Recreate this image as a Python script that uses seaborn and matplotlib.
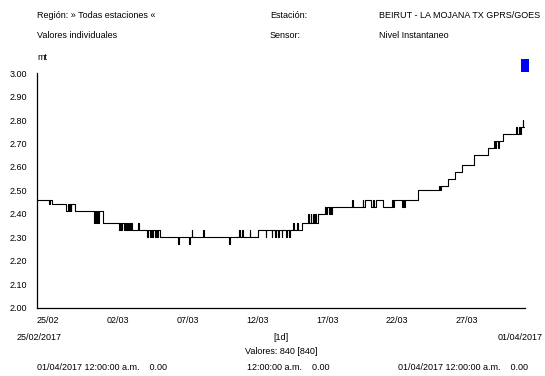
import matplotlib
matplotlib.use("Agg")
import matplotlib.pyplot as plt
from matplotlib import font_manager
from matplotlib.patches import Rectangle
from matplotlib.transforms import ScaledTranslation
import seaborn as sns
import pandas as pd

# ---- data: hourly step series (hours since 25/02/2017 00:00) ----
hours = [0, 21, 22, 25, 50, 53, 55, 57, 58, 59, 65,
         98, 100, 102, 103, 105, 107, 114,
         141, 143, 145, 147, 149, 152, 153, 155, 157, 158, 160, 162, 164, 174, 176,
         189, 191, 194, 196, 198, 200, 203, 204, 207, 208, 212,
         243, 244, 262, 263, 266, 267, 286, 287, 331, 332, 348, 349, 353, 354, 366, 367,
         380, 394, 395, 404, 405, 410, 411, 415, 416, 421, 422, 429, 430, 433,
         436, 441, 442, 448, 449, 456,
         466, 468, 471, 472, 475, 477, 479, 481, 484,
         496, 497, 500, 502, 504, 506, 508,
         543, 544, 561, 562, 565, 575, 578, 580, 583, 596, 611, 613, 614, 628, 630, 632, 634,
         656, 692, 694, 696, 708, 719, 731, 753, 776,
         787, 789, 790, 793, 795, 802,
         825, 826, 829, 831, 833, 836, 837, 839]
levels = [2.46, 2.44, 2.46, 2.44, 2.41, 2.44, 2.41, 2.44, 2.41, 2.44, 2.41,
          2.36, 2.41, 2.36, 2.41, 2.36, 2.41, 2.36,
          2.33, 2.36, 2.33, 2.36, 2.33, 2.36, 2.33, 2.36, 2.33, 2.36, 2.33, 2.36, 2.33, 2.36, 2.33,
          2.30, 2.33, 2.30, 2.33, 2.30, 2.33, 2.30, 2.33, 2.30, 2.33, 2.30,
          2.27, 2.30, 2.27, 2.30, 2.33, 2.30, 2.33, 2.30, 2.27, 2.30, 2.33, 2.30, 2.33, 2.30, 2.33, 2.30,
          2.33, 2.30, 2.33, 2.30, 2.33, 2.30, 2.33, 2.30, 2.33, 2.30, 2.33, 2.30, 2.33, 2.30,
          2.33, 2.36, 2.33, 2.36, 2.33, 2.36,
          2.40, 2.36, 2.40, 2.36, 2.40, 2.36, 2.40, 2.36, 2.40,
          2.43, 2.40, 2.43, 2.40, 2.43, 2.40, 2.43,
          2.46, 2.43, 2.46, 2.43, 2.46, 2.43, 2.46, 2.43, 2.46, 2.43, 2.46, 2.43, 2.46, 2.43, 2.46, 2.43, 2.46,
          2.50, 2.52, 2.50, 2.52, 2.55, 2.58, 2.61, 2.65, 2.68,
          2.71, 2.68, 2.71, 2.68, 2.71, 2.74,
          2.77, 2.74, 2.77, 2.74, 2.77, 2.80, 2.77, 2.77]

x_tick_hours = [24 * d for d in range(36)]
x_tick_labels = ["25/02", "", "", "", "", "02/03", "", "", "", "", "07/03", "", "", "", "",
                 "12/03", "", "", "", "", "17/03", "", "", "", "", "22/03", "", "", "", "",
                 "27/03", "", "", "", "", ""]
y_ticks = [2.00, 2.10, 2.20, 2.30, 2.40, 2.50, 2.60, 2.70, 2.80, 2.90, 3.00]

df = pd.DataFrame({"hour": hours, "nivel": levels})

sns.set_style("white")
avail = {f.name for f in font_manager.fontManager.ttflist}
fam = "Liberation Sans Narrow" if "Liberation Sans Narrow" in avail else "Liberation Sans"
plt.rcParams["font.family"] = [fam, "DejaVu Sans"]
FS = 7.3 if fam == "Liberation Sans Narrow" else 6.5

W, H = 545, 376
fig = plt.figure(figsize=(W / 100, H / 100), dpi=100)
fig.patch.set_facecolor("white")
ax = fig.add_axes([37 / W, 1 - 307.5 / H, (525 - 37) / W, (307.5 - 73.3) / H])
ax.set_facecolor("white")

sns.lineplot(data=df, x="hour", y="nivel", ax=ax, color="black", linewidth=0.8,
             drawstyle="steps-post", estimator=None, sort=False)

ax.set_xlim(0, 840)
ax.set_ylim(2.0, 3.0)
ax.set_xlabel("")
ax.set_ylabel("")
ax.set_xticks(x_tick_hours)
ax.set_xticklabels(x_tick_labels, fontsize=FS, ha="left")
off = ScaledTranslation(-4 / 100, 0, fig.dpi_scale_trans)
for lab in ax.get_xticklabels():
    lab.set_transform(lab.get_transform() + off)
ax.set_yticks(y_ticks)
ax.set_yticklabels([f"{v:.2f}" for v in y_ticks], fontsize=FS)
ax.tick_params(axis="x", direction="out", length=4.3, width=0.8, pad=1.5, colors="black")
ax.tick_params(axis="y", direction="out", length=3.6, width=0.8, pad=3.5, colors="black")
for s in ["top", "right"]:
    ax.spines[s].set_visible(False)
for s in ["left", "bottom"]:
    ax.spines[s].set_color("black")
    ax.spines[s].set_linewidth(0.9)

def ftext(x, y, s, ha="left"):
    fig.text(x / W, 1 - y / H, s, ha=ha, va="center", fontsize=FS, color="black")

ftext(37, 16, "Región: » Todas estaciones «")
ftext(37, 35, "Valores individuales")
ftext(270, 16, "Estación:")
ftext(270, 35, "Sensor:")
ftext(379, 16, "BEIRUT - LA MOJANA TX GPRS/GOES")
ftext(379, 35, "Nivel Instantaneo")
ftext(37, 58, "mt")
ftext(17, 337, "25/02/2017")
ftext(281, 337, "[1d]", ha="center")
ftext(543, 337, "01/04/2017", ha="right")
ftext(281, 352, "Valores: 840 [840]", ha="center")
ftext(37, 368, "01/04/2017 12:00:00 a.m.    0.00")
ftext(247, 368, "12:00:00 a.m.    0.00")
ftext(398, 368, "01/04/2017 12:00:00 a.m.    0.00")

fig.add_artist(Rectangle((521 / W, 1 - 72 / H), 8 / W, 13 / H, transform=fig.transFigure,
                         facecolor="#0000ff", edgecolor="none"))

fig.savefig("out.png", dpi=100, facecolor="white")
